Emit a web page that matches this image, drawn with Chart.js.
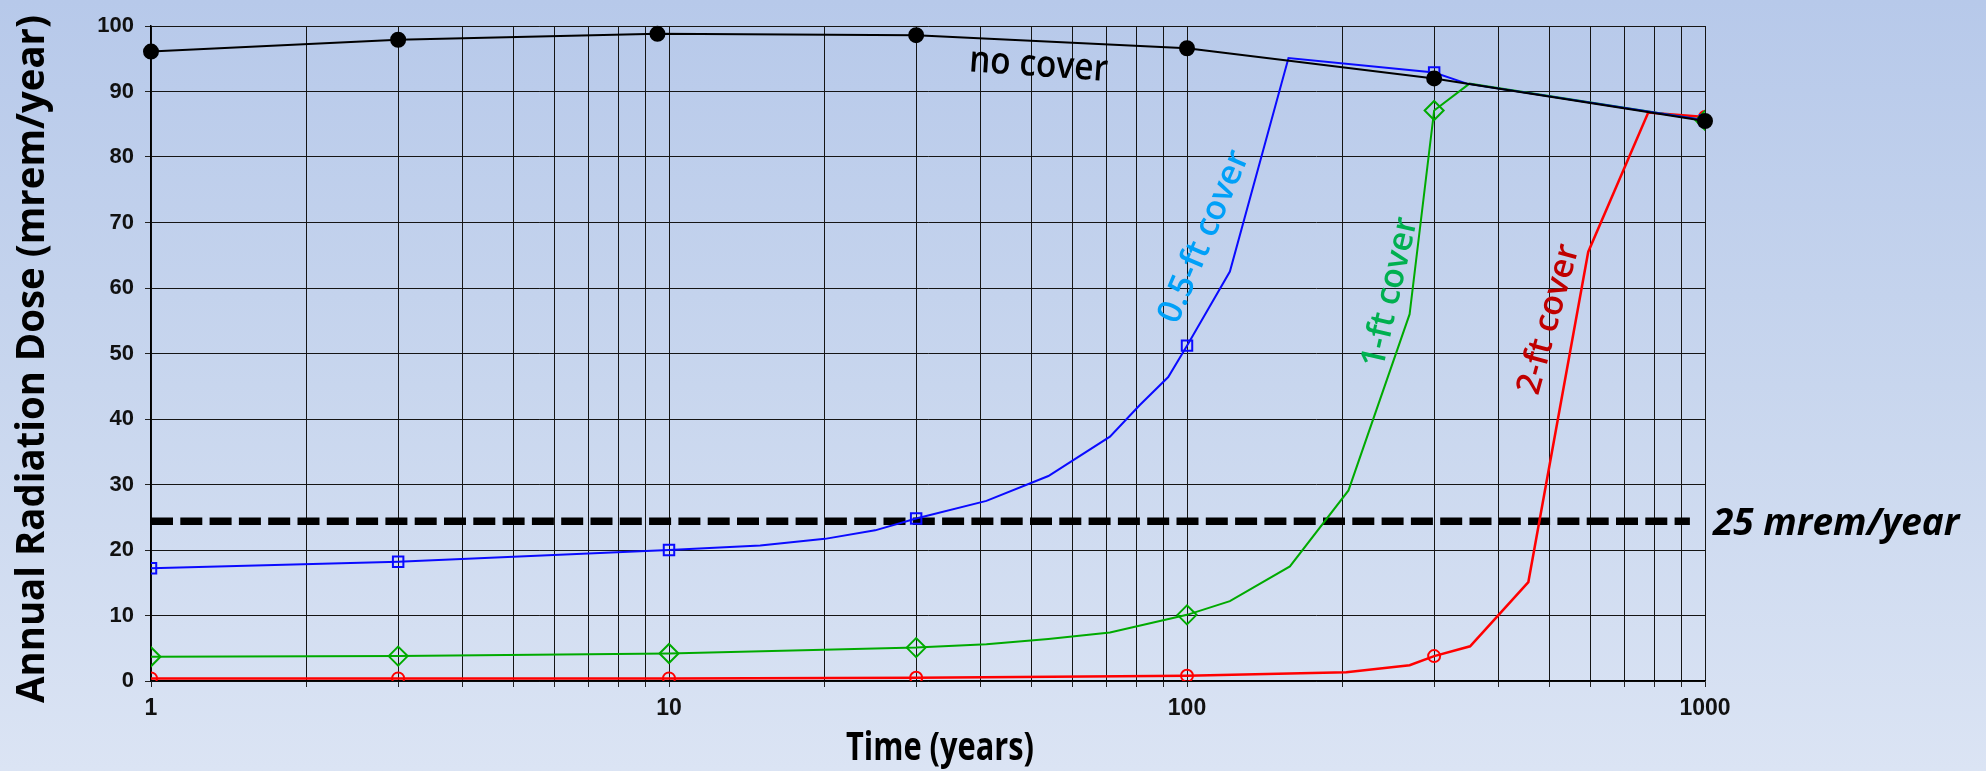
<!DOCTYPE html>
<html>
<head>
<meta charset="utf-8">
<script src="https://cdn.jsdelivr.net/npm/chart.js@4"></script>
<style>
  html, body { margin: 0; padding: 0; }
  body {
    width: 1986px; height: 771px; overflow: hidden;
    background: linear-gradient(to bottom, #b7c9ea 0%, #c8d6ee 50%, #dbe4f4 100%);
  }
  #wrap { width: 1986px; height: 771px; position: relative; }
</style>
</head>
<body>
<div id="wrap"><canvas id="dose"></canvas></div>
<script>
// years where the model output gets a marker
const markYears = [1, 3, 10, 30, 100, 300, 1000];

const noCoverYears = [1, 3, 9.5, 30, 100, 300, 1000];
const noCoverDose  = [96.1, 97.9, 98.8, 98.6, 96.6, 92.0, 85.5];

const halfFtYears = [1, 3, 10, 15, 20, 25, 30, 41, 54, 71, 81, 92, 100, 121, 157, 300, 347, 1000];
const halfFtDose  = [17.2, 18.2, 20.0, 20.7, 21.7, 23.0, 24.8, 27.5, 31.3, 37.3, 42.1, 46.4, 51.2, 62.5, 95.1, 92.9, 91.2, 85.6];

const oneFtYears = [1, 3, 10, 30, 41, 54, 71, 100, 121, 158, 205, 269, 300, 351, 1000];
const oneFtDose  = [3.7, 3.8, 4.2, 5.1, 5.6, 6.4, 7.4, 10.1, 12.2, 17.5, 29.1, 56.0, 87.1, 91.2, 85.6];

const twoFtYears = [1, 3, 10, 30, 100, 203, 269, 300, 352, 456, 595, 777, 1000];
const twoFtDose  = [0.4, 0.4, 0.4, 0.5, 0.8, 1.35, 2.4, 3.8, 5.3, 15.1, 65.5, 86.8, 86.1];

const limitYears = [1, 935];
const limitDose  = [24.4, 24.4];

const xGridYears  = [1, 2, 3, 4, 5, 6, 7, 8, 9, 10, 20, 30, 40, 50, 60, 70, 80, 90,
                     100, 200, 300, 400, 500, 600, 700, 800, 900, 1000];
const xTickLabels = ['1', '10', '100', '1000'];

const canvas = document.getElementById('dose');

function pts(xs, ys) {
  return xs.map((x, i) => ({ x: x, y: ys[i] }));
}

function markerSize(r) {
  return ctx => markYears.includes(ctx.raw.x) ? r : 0;
}

const notes = {
  id: 'notes',
  afterDraw(chart) {
    const c = chart.ctx;
    const xs = chart.scales.x;
    const ys = chart.scales.y;

    function label(text, t, v, angle, font, color, maxW, align, base) {
      c.save();
      c.translate(xs.getPixelForValue(t), ys.getPixelForValue(v));
      c.rotate(angle * Math.PI / 180);
      c.font = font;
      c.fillStyle = color;
      c.textAlign = align || 'center';
      c.textBaseline = base || 'middle';
      c.fillText(text, 0, 0, maxW);
      c.restore();
    }

    label('no cover', 51.5, 92.35, 4, '600 37px "Open Sans"', '#000', 139, 'center', 'alphabetic');
    label('0.5-ft cover', 108, 67.8, -67, '600 34px "Open Sans"', '#00a0f8', 185);
    label('1-ft cover', 247, 59.3, -77, '600 34px "Open Sans"', '#00b050', 153);
    label('2-ft cover', 500, 55.2, -74.6, '600 34px "Open Sans"', '#c00000', 154);
    label('25 mrem/year', 1036, 22.3, 0, 'italic bold 37px "Open Sans"', '#000', 260, 'left', 'alphabetic');

    // axis titles
    c.save();
    c.fillStyle = '#000';
    c.font = 'bold 39px "Open Sans"';
    c.textAlign = 'center';
    c.textBaseline = 'alphabetic';
    c.fillText('Time (years)', 940, 760, 188);
    c.translate(43.5, 359);
    c.rotate(-Math.PI / 2);
    c.fillText('Annual Radiation Dose (mrem/year)', 0, 0, 688);
    c.restore();
  }
};

new Chart(canvas, {
  type: 'line',
  data: {
    datasets: [
      {
        label: 'no cover',
        data: pts(noCoverYears, noCoverDose),
        borderColor: '#000',
        backgroundColor: '#000',
        borderWidth: 2,
        pointRadius: 7,
        pointStyle: 'circle',
        clip: false
      },
      {
        label: '0.5-ft cover',
        data: pts(halfFtYears, halfFtDose),
        borderColor: '#0a0aff',
        backgroundColor: 'transparent',
        borderWidth: 2,
        pointRadius: markerSize(7.4),
        pointStyle: 'rect',
        pointBorderWidth: 2
      },
      {
        label: '1-ft cover',
        data: pts(oneFtYears, oneFtDose),
        borderColor: '#00aa00',
        backgroundColor: 'transparent',
        borderWidth: 2,
        pointRadius: markerSize(9.5),
        pointStyle: 'rectRot',
        pointBorderWidth: 2
      },
      {
        label: '2-ft cover',
        data: pts(twoFtYears, twoFtDose),
        borderColor: '#ff0000',
        backgroundColor: 'transparent',
        borderWidth: 2.5,
        pointRadius: markerSize(6),
        pointStyle: 'circle',
        pointBorderWidth: 2
      },
      {
        label: '25 mrem/year',
        data: pts(limitYears, limitDose),
        borderColor: '#000',
        borderWidth: 7.5,
        borderDash: [22, 7.3],
        borderCapStyle: 'butt',
        pointRadius: 0,
        clip: false
      }
    ]
  },
  options: {
    responsive: true,
    maintainAspectRatio: false,
    animation: false,
    layout: { padding: { left: 91, right: 281, top: 26, bottom: 40 } },
    elements: { line: { tension: 0 } },
    plugins: {
      legend: { display: false },
      tooltip: { enabled: false }
    },
    scales: {
      x: {
        type: 'logarithmic',
        min: 1,
        max: 1000,
        afterBuildTicks: s => { s.ticks = xGridYears.map(v => ({ value: v })); },
        afterFit: s => { s.height = 50; },
        ticks: {
          autoSkip: false,
          maxRotation: 0,
          padding: 8,
          color: '#111',
          font: { family: 'Liberation Sans', weight: 'bold', size: 23 },
          callback: v => xTickLabels.includes(String(v)) ? String(v) : ''
        },
        grid: { color: '#151515', lineWidth: 1, tickLength: 6, tickColor: '#222' },
        border: { color: '#000', width: 1.5 }
      },
      y: {
        min: 0,
        max: 100,
        afterFit: s => { s.width = 60; },
        ticks: {
          stepSize: 10,
          padding: 11,
          color: '#111',
          font: { family: 'Liberation Sans', weight: 'bold', size: 22 }
        },
        grid: { color: '#151515', lineWidth: 1, tickLength: 6, tickColor: '#222' },
        border: { color: '#000', width: 1.5 }
      }
    }
  },
  plugins: [notes]
});
</script>
</body>
</html>
